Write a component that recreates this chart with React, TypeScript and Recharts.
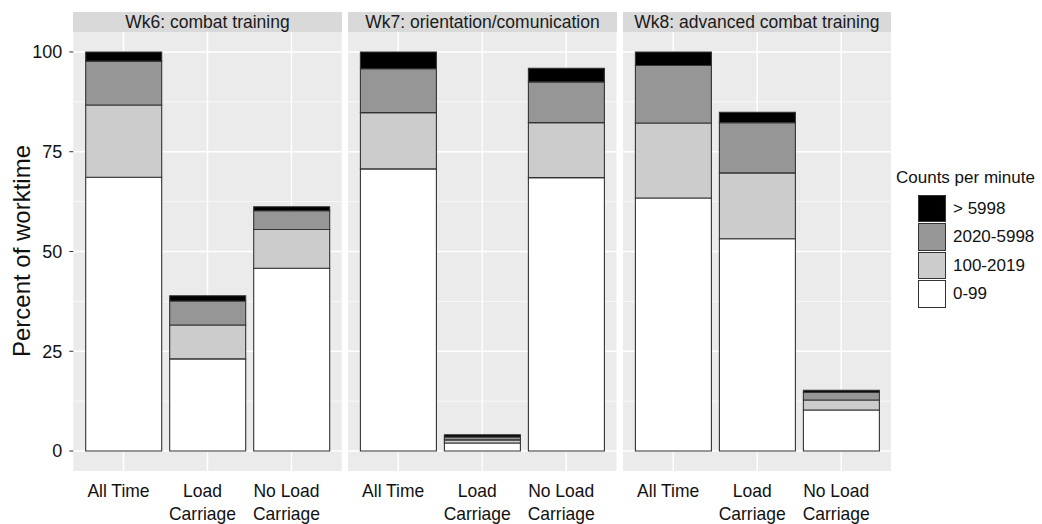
import React from 'react';
import { BarChart, Bar, XAxis, YAxis, CartesianGrid } from 'recharts';

const categories = ['All Time', 'Load\nCarriage', 'No Load\nCarriage'];
const facetTitles = ['Wk6: combat training', 'Wk7: orientation/comunication', 'Wk8: advanced combat training'];
const binNames = ['0-99', '100-2019', '2020-5998', '> 5998'];
const binColors = ['#FFFFFF', '#CCCCCC', '#969696', '#000000'];

// percent of worktime, one row per week: All Time, Load Carriage, No Load Carriage
const counts0to99 = [[68.6, 23.1, 45.8], [70.7, 2.0, 68.5], [63.4, 53.2, 10.3]];
const counts100to2019 = [[18.1, 8.5, 9.7], [14.1, 0.8, 13.8], [18.8, 16.5, 2.5]];
const counts2020to5998 = [[11.0, 6.0, 4.7], [11.0, 0.7, 10.2], [14.4, 12.6, 1.9]];
const countsOver5998 = [[2.3, 1.3, 1.0], [4.2, 0.6, 3.4], [3.4, 2.6, 0.5]];

const yTicks = [0, 25, 50, 75, 100];
const yMinor = [12.5, 37.5, 62.5, 87.5];

const FONT = '"Liberation Sans", Arial, Helvetica, sans-serif';
const PANEL_W = 268.4;
const Y_W = 73.3;
const PANEL_LEFTS = [73.3, 348.3, 622.7];
const PANEL_TOP = 32;
const CHART_H = 492;
const X_AXIS_H = 53;
const X_PAD = 8.2;

const keys = ['b0', 'b1', 'b2', 'b3'];

function facetData(f: number) {
  return categories.map((cat, i) => ({
    cat,
    b0: counts0to99[f][i],
    b1: counts100to2019[f][i],
    b2: counts2020to5998[f][i],
    b3: countsOver5998[f][i],
  }));
}

const XTick = (props: any) => {
  const { x, y, payload } = props;
  const lines = String(payload.value).split('\n');
  return (
    <text x={x - 5} y={y} textAnchor="middle" fontSize={17.5} fill="#111" fontFamily={FONT}>
      {lines.map((l, i) => (
        <tspan key={i} x={x - 5} y={y + 26 + i * 23}>{l}</tspan>
      ))}
    </text>
  );
};

const verticalGen = (args: any) => {
  const o = args && args.offset;
  if (!o) return [];
  const band = (o.width - 2 * X_PAD) / categories.length;
  return categories.map((_, i) => o.left + X_PAD + band * (i + 0.5));
};

function Facet({ f }: { f: number }) {
  const showY = f === 0;
  const left = PANEL_LEFTS[f] - (showY ? Y_W : 0);
  const width = PANEL_W + (showY ? Y_W : 0);
  return (
    <>
      <div
        style={{
          position: 'absolute', left: PANEL_LEFTS[f], top: 12, width: PANEL_W, height: 20,
          background: '#D9D9D9', color: '#1A1A1A', fontSize: 17.5, lineHeight: '20px',
          textAlign: 'center', fontFamily: FONT, whiteSpace: 'nowrap',
        }}
      >
        {facetTitles[f]}
      </div>
      <div style={{ position: 'absolute', left, top: PANEL_TOP }}>
        <BarChart
          width={width}
          height={CHART_H}
          data={facetData(f)}
          margin={{ top: 0, right: 0, bottom: 0, left: 0 }}
          barCategoryGap="5%"
        >
          <CartesianGrid
            fill="#EBEBEB"
            stroke="#FFFFFF"
            strokeWidth={0.7}
            horizontalValues={yMinor}
            vertical={false}
          />
          <CartesianGrid
            stroke="#FFFFFF"
            strokeWidth={1.4}
            horizontalValues={yTicks}
            verticalCoordinatesGenerator={verticalGen}
          />
          <XAxis
            dataKey="cat"
            type="category"
            height={X_AXIS_H}
            padding={{ left: X_PAD, right: X_PAD }}
            axisLine={false}
            tickLine={false}
            tickSize={0}
            tickMargin={0}
            interval={0}
            tick={<XTick />}
          />
          <YAxis
            hide={!showY}
            width={Y_W}
            domain={[-5, 105]}
            ticks={yTicks}
            type="number"
            allowDataOverflow
            axisLine={false}
            tickSize={4}
            tickMargin={7}
            tickLine={{ stroke: '#333' }}
            tick={{ fontSize: 18, fill: '#111', fontFamily: FONT }}
          />
          {keys.map((k, i) => (
            <Bar
              key={k}
              dataKey={k}
              stackId="a"
              fill={binColors[i]}
              stroke="#333"
              strokeWidth={1.1}
              isAnimationActive={false}
            />
          ))}
        </BarChart>
      </div>
    </>
  );
}

export default function App() {
  const legendRows = [3, 2, 1, 0];
  return (
    <div style={{ position: 'absolute', left: 0, top: 0, width: 1042, height: 524, background: '#fff', fontFamily: FONT }}>
      <div
        style={{
          position: 'absolute', left: 22, top: 251, transform: 'translate(-50%, -50%) rotate(-90deg)',
          fontSize: 24, lineHeight: 1, whiteSpace: 'nowrap', color: '#111',
        }}
      >
        Percent of worktime
      </div>
      {[0, 1, 2].map((f) => (
        <Facet key={f} f={f} />
      ))}
      <div style={{ position: 'absolute', left: 896, top: 168, fontSize: 17, color: '#111', whiteSpace: 'nowrap', lineHeight: '20px' }}>
        Counts per minute
      </div>
      {legendRows.map((b, r) => (
        <div key={b}>
          <div
            style={{
              position: 'absolute', left: 917.5, top: 194.5 + r * 28.6, width: 26, height: 25.5,
              background: binColors[b], border: '1.2px solid #333',
            }}
          />
          <div
            style={{
              position: 'absolute', left: 953, top: 194.5 + r * 28.6, height: 28, lineHeight: '28px',
              fontSize: 17, color: '#111', whiteSpace: 'nowrap',
            }}
          >
            {binNames[b]}
          </div>
        </div>
      ))}
    </div>
  );
}
